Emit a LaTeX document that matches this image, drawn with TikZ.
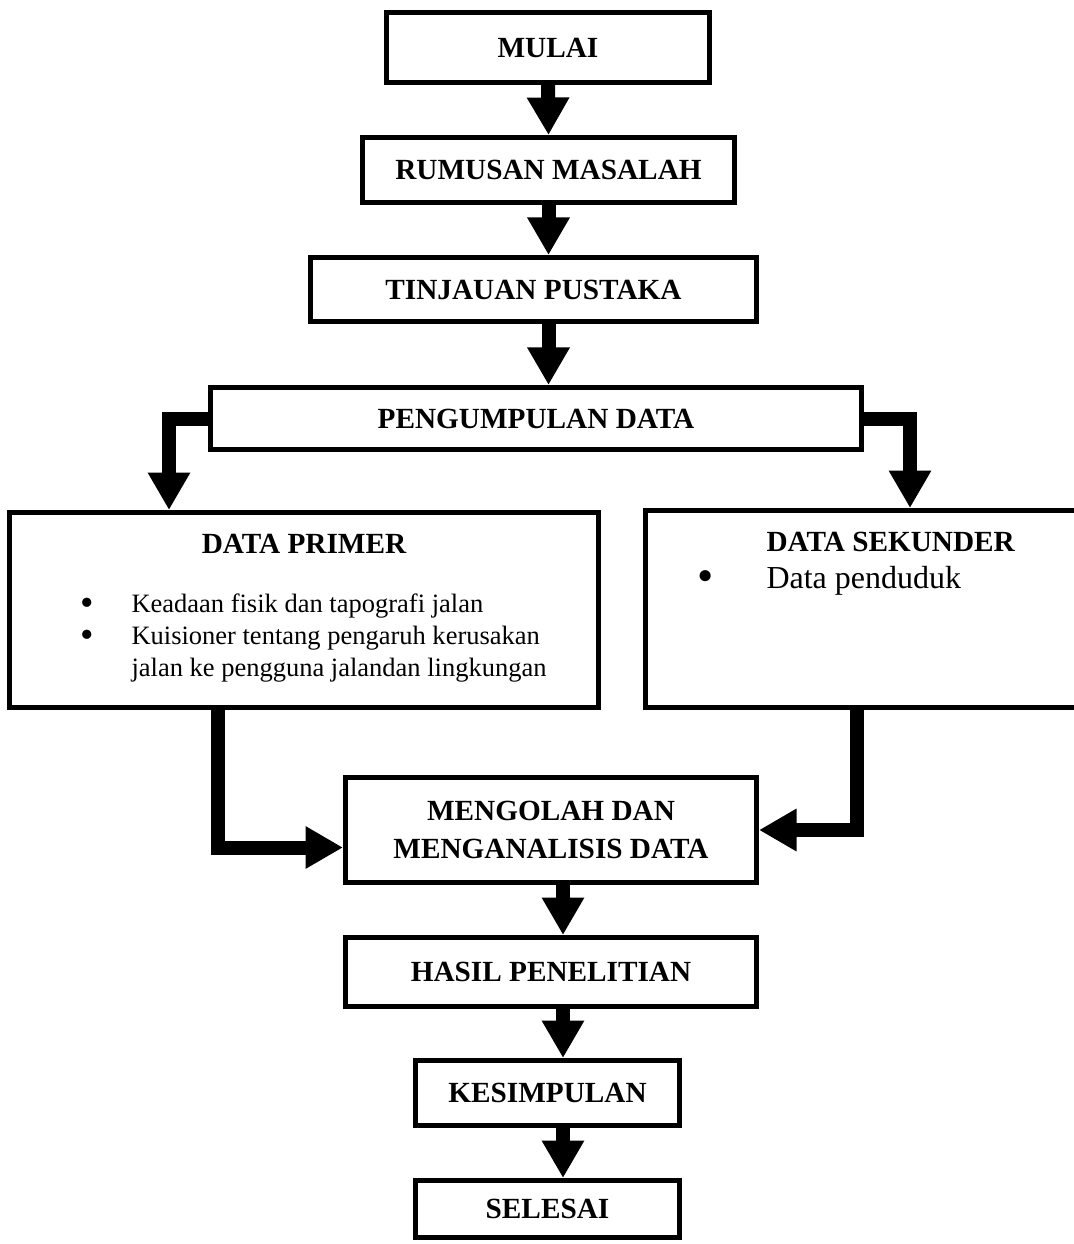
\documentclass[tikz,border=0pt]{standalone}
\usepackage{fontspec}
\setmainfont{Liberation Serif}
\usetikzlibrary{arrows.meta, positioning, calc}
\newcommand{\titik}{\raisebox{-0.12em}{\scalebox{1.45}{\textbullet}}}
\tikzset{
  every picture/.style={line width=2pt},
  box/.style={draw, line width=2pt, inner sep=0pt, align=center, font=\fontsize{11.7}{15.2}\selectfont\bfseries},
  arrow/.style={-{Triangle[width=16pt, length=15pt]}, line width=5.6pt},
  judul/.style={inner sep=0pt, font=\fontsize{11.7}{14}\selectfont\bfseries},
  isi/.style={inner sep=0pt, align=left},
}

\begin{document}
\begin{tikzpicture}[x=0.4pt, y=-0.4pt]
  \useasboundingbox (0,0) rectangle (1073,1244);
  % helper: box given by its outer corners (x1,y1) (x2,y2) in pixels
  \newcommand{\kotak}[6]{% name, x1, y1, x2, y2, text
    \node[box, minimum width={(#4-#2-5)*0.4pt}, minimum height={(#5-#3-5)*0.4pt}] (#1) at ({(#2+#4)/2}, {(#3+#5)/2}) {#6};
  }
  % main chain
  \kotak{mulai}{384}{10}{712}{85}{MULAI}
  \kotak{rumusan}{360}{135}{737}{205}{RUMUSAN MASALAH}
  \kotak{tinjauan}{308}{255}{759}{324}{TINJAUAN PUSTAKA}
  \kotak{kumpul}{208}{385}{864}{452}{PENGUMPULAN DATA}
  \kotak{primer}{7}{510}{601}{710}{}
  \kotak{sekunder}{643}{508}{1090}{710}{}
  \kotak{olah}{343}{775}{759}{885}{MENGOLAH DAN\\MENGANALISIS DATA}
  \kotak{hasil}{343}{935}{759}{1009}{HASIL PENELITIAN}
  \kotak{simpul}{413}{1058}{682}{1128}{KESIMPULAN}
  \kotak{selesai}{413}{1178}{682}{1240}{SELESAI}
  % contents of the two data boxes
  \node[judul, anchor=base] (judulprimer) at (304,553) {DATA PRIMER};
  \node[isi, font=\fontsize{10.6}{12.8}\selectfont, anchor=base west] (isiprimer) at (78,612)
    {\begin{tabular}[t]{@{}p{20.4pt}@{}l@{}}
      \titik & Keadaan fisik dan tapografi jalan\\
      \titik & Kuisioner tentang pengaruh kerusakan\\
             & jalan ke pengguna jalandan lingkungan
     \end{tabular}};
  \node[judul, anchor=base west] (judulsekunder) at (764,551) {DATA SEKUNDER};
  \node[isi, font=\fontsize{12.8}{15}\selectfont, anchor=base west] (isisekunder) at (695,588)
    {\makebox[27.6pt][l]{\titik}Data penduduk};
  % x positions of the connectors
  \coordinate (jalur) at (563,0);
  \coordinate (kiri) at (169,0);
  \coordinate (kanan) at (910,0);
  \coordinate (kirib) at (218,0);
  \coordinate (kananb) at (857,0);
  % connectors
  \draw[arrow] (mulai.south) -- (rumusan.north);
  \draw[arrow] (rumusan.south) -- (tinjauan.north -| rumusan);
  \draw[arrow] (tinjauan.south -| rumusan) -- (kumpul.north -| rumusan);
  \draw[arrow] (kumpul.west) -| (kiri |- primer.north);
  \draw[arrow] (kumpul.east) -| (kanan |- sekunder.north);
  \draw[arrow] (kirib |- primer.south) |- ([yshift=-7pt]olah.west);
  \draw[arrow] (kananb |- sekunder.south) |- (olah.east);
  \draw[arrow] (olah.south -| jalur) -- (hasil.north -| jalur);
  \draw[arrow] (hasil.south -| jalur) -- (simpul.north -| jalur);
  \draw[arrow] (simpul.south -| jalur) -- (selesai.north -| jalur);
\end{tikzpicture}
\end{document}
